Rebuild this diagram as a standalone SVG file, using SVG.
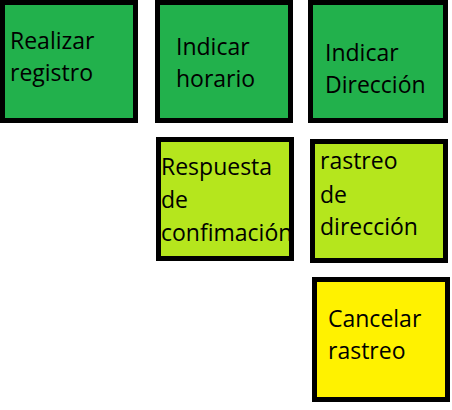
<svg xmlns="http://www.w3.org/2000/svg" width="452" height="410" viewBox="0 0 452 410">
<style>
.t{font-family:"Open Sans","Noto Sans","DejaVu Sans",sans-serif;font-size:23px;fill:#000}
.b{fill:none;stroke:#000;stroke-width:5}
.g{fill:#22B14C}.l{fill:#B5E61D}.y{fill:#FFF200}
</style>
<rect width="452" height="410" fill="#fff"/>
<g id="connectors"></g>
<g id="realizar">
<rect class="g" x="2.5" y="2.5" width="133" height="118"/>
<text class="t" x="10" y="49">Realizar</text>
<text class="t" x="10" y="81">registro</text>
<rect class="b" x="2.5" y="2.5" width="133" height="118"/>
</g>
<g id="horario">
<rect class="g" x="157.5" y="2.5" width="133" height="118"/>
<text class="t" x="176" y="55">Indicar</text>
<text class="t" x="176" y="87">horario</text>
<rect class="b" x="157.5" y="2.5" width="133" height="118"/>
</g>
<g id="direccion">
<rect class="g" x="310.5" y="2.5" width="135" height="118"/>
<text class="t" x="325" y="61">Indicar</text>
<text class="t" x="325" y="93">Dirección</text>
<rect class="b" x="310.5" y="2.5" width="135" height="118"/>
</g>
<g id="respuesta">
<rect class="l" x="158.5" y="139.5" width="133" height="119"/>
<text class="t" x="161" y="175">Respuesta</text>
<text class="t" x="161" y="208">de</text>
<text class="t" x="161" y="241">confimación</text>
<rect class="b" x="158.5" y="139.5" width="133" height="119"/>
</g>
<g id="rastreo">
<rect class="l" x="312.5" y="141.5" width="133" height="119"/>
<text class="t" x="320" y="169">rastreo</text>
<text class="t" x="320" y="203">de</text>
<text class="t" x="320" y="235">dirección</text>
<rect class="b" x="312.5" y="141.5" width="133" height="119"/>
</g>
<g id="cancelar">
<rect class="y" x="314.5" y="279.5" width="133" height="120"/>
<text class="t" x="328" y="327">Cancelar</text>
<text class="t" x="328" y="359">rastreo</text>
<rect class="b" x="314.5" y="279.5" width="133" height="120"/>
</g>
</svg>
